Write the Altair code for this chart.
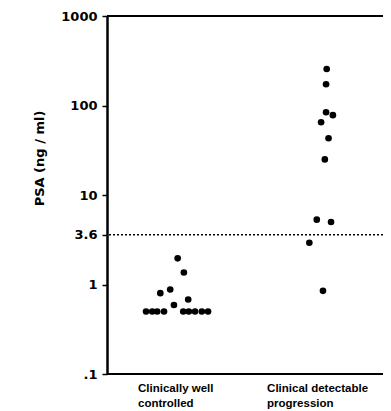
import altair as alt
import pandas as pd

# ---- data ----
categories = ["Clinically well controlled", "Clinical detectable progression"]
category_lines = [["Clinically well", "controlled"], ["Clinical detectable", "progression"]]

well_psa = [1.96, 1.36, 0.88, 0.80, 0.68, 0.59,
            0.50, 0.50, 0.50, 0.50, 0.50, 0.50, 0.50, 0.50, 0.50]
well_slot = [0.1, 1.1, -1.1, -2.7, 1.8, -0.5,
             -5.0, -4.0, -3.2, -2.1, 1.0, 1.9, 2.9, 4.0, 5.0]

prog_psa = [256, 173, 84, 78, 65, 43, 25, 5.3, 5.0, 2.93, 0.85]
prog_slot = [0.1, 0.0, 0.0, 1.1, -0.8, 0.4, -0.2, -1.5, 0.8, -2.7, -0.5]

cutoff = 3.6
y_ticks = [0.1, 1, 3.6, 10, 100, 1000]

SLOT = 0.0416  # width of one dot slot in group units

rows = []
for v, s in zip(well_psa, well_slot):
    rows.append({"group": categories[0], "psa": v, "pos": 1 + s * SLOT})
for v, s in zip(prog_psa, prog_slot):
    rows.append({"group": categories[1], "psa": v, "pos": 2 + s * SLOT})
df = pd.DataFrame(rows)

FONT = "DejaVu Sans"
LFONT = "Liberation Sans"

xscale = alt.Scale(domain=[0.530, 2.382], zero=False, nice=False)
yscale = alt.Scale(type="log", domain=[0.1, 1000], nice=False)

points = alt.Chart(df).mark_circle(color="black", opacity=1, size=44).encode(
    x=alt.X("pos:Q", scale=xscale, axis=None),
    y=alt.Y(
        "psa:Q",
        scale=yscale,
        axis=alt.Axis(
            values=y_ticks,
            labelExpr="datum.value == 0.1 ? '.1' : format(datum.value, '')",
            title="PSA (ng / ml)",
            titleFont=FONT,
            titleFontSize=13,
            titleFontWeight="bold",
            titleColor="black",
            titleX=-61,
            titleY=142,
            titleAngle=270,
            titleBaseline="bottom",
            titleAlign="center",
            labelFont=FONT,
            labelFontSize=13,
            labelFontWeight="bold",
            labelColor="black",
            labelPadding=5,
            tickSize=5,
            tickWidth=1.5,
            tickColor="black",
            domainColor="black",
            domainWidth=2.5,
            grid=False,
        ),
    ),
)

top_rule = alt.Chart(pd.DataFrame({"y": [1000]})).mark_rule(
    color="black", strokeWidth=2
).encode(y=alt.Y("y:Q", scale=yscale))

bottom_rule = alt.Chart(pd.DataFrame({"y": [0.1]})).mark_rule(
    color="black", strokeWidth=2
).encode(y=alt.Y("y:Q", scale=yscale))

cut_rule = alt.Chart(pd.DataFrame({"y": [cutoff]})).mark_rule(
    color="black", strokeWidth=1.6, strokeDash=[2, 2]
).encode(y=alt.Y("y:Q", scale=yscale))

lab1 = alt.Chart(pd.DataFrame({"pos": [1], "t": [category_lines[0]]})).mark_text(
    font=LFONT, fontSize=11.5, fontWeight="bold", color="black",
    align="left", baseline="alphabetic", lineHeight=15, dx=-39
).encode(x=alt.X("pos:Q", scale=xscale), y=alt.value(376), text="t")

lab2 = alt.Chart(pd.DataFrame({"pos": [2], "t": [category_lines[1]]})).mark_text(
    font=LFONT, fontSize=11.5, fontWeight="bold", color="black",
    align="left", baseline="alphabetic", lineHeight=15, dx=-59
).encode(x=alt.X("pos:Q", scale=xscale), y=alt.value(376), text="t")

chart = alt.layer(top_rule, bottom_rule, cut_rule, points, lab1, lab2).properties(
    width=276,
    height=358,
    autosize=alt.AutoSizeParams(type="none"),
    padding={"left": 99, "top": 8, "right": 0, "bottom": 36},
    background="white",
).configure_view(stroke=None)

chart.save("out.html", embed_options={"renderer": "svg", "actions": False})
